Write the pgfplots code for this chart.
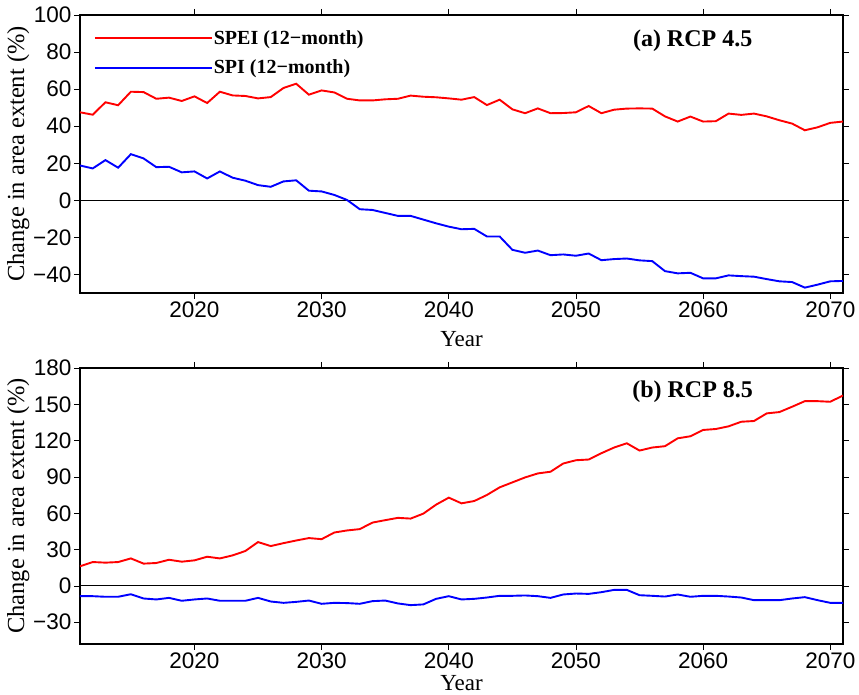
\documentclass[border=0pt]{standalone}
\usepackage{fontspec}
\setmainfont{Liberation Serif}
\newfontfamily\ticksans{Liberation Sans}
\usepackage{pgfplots}
\usepackage{pgfplotstable}
\pgfplotsset{compat=1.18}

% RCP 4.5, change in drought area extent (%)
\pgfplotstableread{
year spei spi
2011 47.5 18.8
2012 46.2 17.2
2013 52.9 21.7
2014 51.3 17.6
2015 58.6 24.9
2016 58.4 22.6
2017 54.8 17.9
2018 55.4 18.1
2019 53.6 15.1
2020 56.1 15.6
2021 52.5 11.8
2022 58.6 15.6
2023 56.6 12.2
2024 56.3 10.6
2025 55.0 8.2
2026 55.7 7.3
2027 60.6 10.2
2028 62.9 10.8
2029 57.0 5.2
2030 59.3 4.8
2031 58.2 2.9
2032 54.8 0.2
2033 53.9 -4.8
2034 53.9 -5.2
2035 54.5 -6.8
2036 54.8 -8.4
2037 56.5 -8.4
2038 55.9 -10.4
2039 55.6 -12.4
2040 55.0 -14.2
2041 54.3 -15.6
2042 55.7 -15.4
2043 51.4 -19.5
2044 54.3 -19.5
2045 49.1 -26.7
2046 47.0 -28.3
2047 49.6 -27.1
2048 47.0 -29.6
2049 47.1 -29.2
2050 47.5 -29.9
2051 50.9 -28.7
2052 47.0 -32.3
2053 48.9 -31.7
2054 49.5 -31.4
2055 49.6 -32.4
2056 49.5 -32.8
2057 45.3 -38.2
2058 42.5 -39.4
2059 45.2 -39.1
2060 42.5 -42.1
2061 42.7 -42.1
2062 46.8 -40.5
2063 46.1 -40.9
2064 46.8 -41.2
2065 45.3 -42.5
2066 43.2 -43.7
2067 41.4 -44.1
2068 37.8 -47.1
2069 39.4 -45.5
2070 41.8 -43.7
2071 42.5 -43.5
}\rcpA

% RCP 8.5
\pgfplotstableread{
year spei spi
2011 16.2 -8.5
2012 19.7 -8.5
2013 19.2 -9.0
2014 19.7 -9.0
2015 22.7 -6.9
2016 18.4 -10.4
2017 18.9 -11.2
2018 21.6 -9.9
2019 20.0 -12.3
2020 21.1 -11.2
2021 24.1 -10.4
2022 22.7 -12.3
2023 25.2 -12.3
2024 28.8 -12.3
2025 36.2 -9.9
2026 32.9 -12.9
2027 35.3 -14.0
2028 37.5 -13.2
2029 39.5 -12.1
2030 38.6 -14.8
2031 44.1 -14.0
2032 45.8 -14.2
2033 46.9 -14.8
2034 52.3 -12.6
2035 54.3 -12.1
2036 56.2 -14.5
2037 55.6 -15.9
2038 59.7 -15.3
2039 67.1 -10.7
2040 72.9 -8.5
2041 68.2 -11.2
2042 70.1 -10.7
2043 75.1 -9.6
2044 81.4 -8.2
2045 85.5 -8.2
2046 89.6 -7.9
2047 92.9 -8.5
2048 94.3 -9.9
2049 101.1 -7.1
2050 103.8 -6.3
2051 104.4 -6.6
2052 109.6 -5.2
2053 114.3 -3.3
2054 117.8 -3.3
2055 111.8 -7.7
2056 114.3 -8.2
2057 115.4 -8.8
2058 121.9 -7.1
2059 123.6 -9.0
2060 128.8 -8.2
2061 129.6 -8.2
2062 131.8 -8.8
2063 135.6 -9.6
2064 136.2 -11.8
2065 142.5 -11.8
2066 143.6 -11.8
2067 148.0 -10.4
2068 152.6 -9.3
2069 152.6 -11.8
2070 152.1 -14.0
2071 157.3 -14.0
}\rcpB

\pgfplotsset{
  panel/.style={
    scale only axis, width=763pt,
    xmin=2011, xmax=2071,
    xtick={2020,2030,2040,2050,2060,2070},
    xticklabels={2020,2030,2040,2050,2060,2070},
    tick align=outside, major tick length=6pt,
    axis line style={line width=1.7pt},
    tick style={black, line width=0.7pt},
    ticklabel style={font=\ticksans\fontsize{22.5}{22.5}\selectfont, inner sep=2.5pt},
    ylabel={Change in area extent (\%)},
    ylabel style={font=\fontsize{24.5}{24.5}\selectfont, at={(axis description cs:-0.081,0.5)}, anchor=center},
    xlabel={Year},
    xlabel style={font=\fontsize{23}{23}\selectfont, anchor=north, inner sep=0pt},
  },
}

\begin{document}
\begin{tikzpicture}
\path[use as bounding box] (0pt,0pt) rectangle (859pt,695pt);

\begin{axis}[panel,
  at={(80pt,402pt)}, anchor=south west, height=278pt,
  xlabel style={at={(axis description cs:0.5,-0.138)}},
  ymin=-50, ymax=100,
  ytick={-40,-20,0,20,40,60,80,100},
  yticklabels={−40,−20,0,20,40,60,80,100},
  legend style={draw=none, fill=none, at={(axis description cs:0.018,0.97)}, anchor=north west,
    font=\bfseries\fontsize{20}{20}\selectfont, inner sep=0pt,
    nodes={inner xsep=1pt, inner ysep=7pt}},
  legend cell align=left,
  legend image code/.code={\draw[#1] (0pt,0pt) -- (117pt,0pt);},
]
\addplot[black, line width=0.9pt, forget plot] coordinates {(2011,0) (2071,0)};
\addplot[red, line width=1.9pt] table[x=year, y=spei] {\rcpA};
\addlegendentry{SPEI (12−month)}
\addplot[blue, line width=1.9pt] table[x=year, y=spi] {\rcpA};
\addlegendentry{SPI (12−month)}
\node[font=\bfseries\fontsize{24}{24}\selectfont] at (axis description cs:0.803,0.906) {(a) RCP 4.5};
\end{axis}

\begin{axis}[panel,
  at={(80pt,51pt)}, anchor=south west, height=276pt,
  xlabel style={at={(axis description cs:0.5,-0.112)}},
  ymin=-48, ymax=180,
  ytick={-30,0,30,60,90,120,150,180},
  yticklabels={−30,0,30,60,90,120,150,180},
]
\addplot[black, line width=0.9pt, forget plot] coordinates {(2011,0) (2071,0)};
\addplot[red, line width=1.9pt] table[x=year, y=spei] {\rcpB};
\addplot[blue, line width=1.9pt] table[x=year, y=spi] {\rcpB};
\node[font=\bfseries\fontsize{24}{24}\selectfont] at (axis description cs:0.803,0.913) {(b) RCP 8.5};
\end{axis}
\end{tikzpicture}
\end{document}
